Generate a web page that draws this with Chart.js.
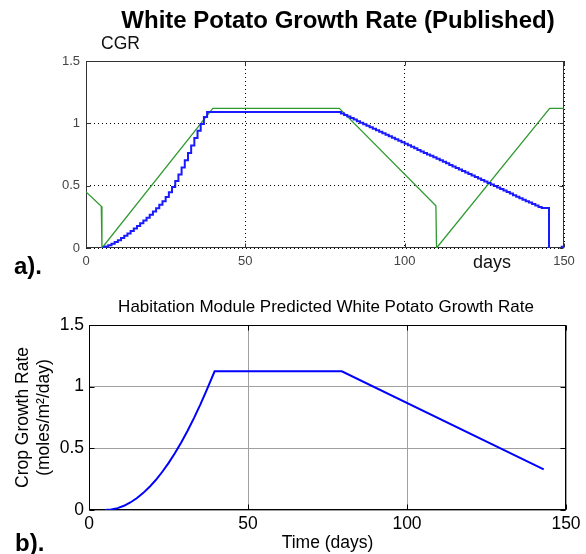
<!DOCTYPE html>
<html>
<head>
<meta charset="utf-8">
<script src="https://cdn.jsdelivr.net/npm/chart.js@4.4.1/dist/chart.umd.min.js"></script>
<style>
    body { margin: 0; background: #fff; }
    #pagina { position: relative; width: 586px; height: 554px; font-family: "Liberation Sans", Arial, sans-serif; }
    .riquadro { position: absolute; left: 0; width: 586px; }
    .testo { position: absolute; white-space: nowrap; line-height: 1; }
    .centro { transform: translate(-50%, -50%); }
    .sinistra { transform: translate(0, -50%); }
</style>
</head>
<body>
<div id="pagina">
    <div class="riquadro" style="top:0;height:280px"><canvas id="graficoA" width="586" height="280"></canvas></div>
    <div class="riquadro" style="top:280px;height:274px"><canvas id="graficoB" width="586" height="274"></canvas></div>

    <div class="testo centro" style="left:338px;top:20px;font-size:24px;font-weight:bold;color:#000">White Potato Growth Rate (Published)</div>
    <div class="testo sinistra" style="left:101px;top:44px;font-size:17.5px;color:#111">CGR</div>
    <div class="testo sinistra" style="left:473px;top:262px;font-size:18px;color:#111">days</div>
    <div class="testo sinistra" style="left:14px;top:266px;font-size:24px;font-weight:bold;color:#000">a).</div>

    <div class="testo centro" style="left:326px;top:306px;font-size:17px;color:#000">Habitation Module Predicted White Potato Growth Rate</div>
    <div class="testo sinistra" style="left:15px;top:543px;font-size:24px;font-weight:bold;color:#000">b).</div>
</div>

<script>
// Grafico a): curva pubblicata, linea verde
const giorniVerde = [0, 4.8, 5, 39.8, 79.5, 109.8, 110, 145.5, 150];
const cgrVerde = [0.45, 0.334, 0, 1.12, 1.12, 0.338, 0, 1.12, 1.12];

// Grafico a): curva a gradini, linea blu (null = interruzione)
const giorniBlu = [5.5, 6, 7, 8, 9, 10, 11, 12, 13, 14, 15, 16, 17, 18, 19, 20, 21, 22, 23, 24, 25, 26, 27, 28, 29, 30, 31, 32, 33, 34, 35, 36, 37, 38, 39,
    80, 81, 82, 83, 84, 85, 86, 87, 88, 89, 90, 91, 92, 93, 94, 95, 96, 97, 98, 99, 100, 101, 102, 103, 104, 105, 106, 107, 108, 109, 110, 111,
    112, 113, 114, 115, 116, 117, 118, 119, 120, 121, 122, 123, 124, 125, 126, 127, 128, 129, 130, 131, 132, 133, 134, 135, 136, 137, 138, 139,
    140, 141, 142, 143, 143.5, 145.3, 145.3,
    147, 149.3, 150];
const cgrBlu = [0, 0.004, 0.012, 0.022, 0.034, 0.048, 0.063, 0.08, 0.098, 0.117, 0.136, 0.156, 0.177, 0.198, 0.22, 0.243, 0.267, 0.292, 0.318, 0.346, 0.376, 0.41, 0.448, 0.49, 0.537, 0.59, 0.645, 0.703, 0.762, 0.822, 0.882, 0.94, 0.995, 1.05, 1.09,
    1.09, 1.078, 1.066, 1.054, 1.042, 1.03, 1.017, 1.005, 0.993, 0.981, 0.969, 0.957, 0.945, 0.933, 0.921, 0.908, 0.896, 0.884, 0.872, 0.86, 0.848, 0.836, 0.824, 0.812, 0.8, 0.787, 0.775, 0.763, 0.751, 0.739, 0.727, 0.715,
    0.703, 0.691, 0.679, 0.666, 0.654, 0.642, 0.63, 0.618, 0.606, 0.594, 0.582, 0.57, 0.558, 0.545, 0.533, 0.521, 0.509, 0.497, 0.485, 0.473, 0.461, 0.449, 0.437, 0.424, 0.412, 0.4, 0.388, 0.376,
    0.364, 0.352, 0.34, 0.328, 0.32, 0.32, 0,
    null, 0, 0.01];

// Grafico b): curva prevista dal modulo abitativo
const giorniB = [5, 7, 9, 11, 13, 15, 17, 19, 21, 23, 25, 27, 29, 31, 33, 35, 37, 39.5, 79.5, 143];
const cgrB = [0, 0.004, 0.015, 0.034, 0.061, 0.095, 0.137, 0.186, 0.243, 0.308, 0.38, 0.46, 0.548, 0.643, 0.745, 0.855, 0.972, 1.125, 1.125, 0.33];

// Etichette degli assi
const ticksGiorni = [0, 50, 100, 150];
const ticksCgr = [0, 0.5, 1, 1.5];

const famiglia = '"Liberation Sans", Arial, sans-serif';

function punti(xs, ys) {
    return xs.map((x, i) => ({ x: x, y: ys[i] }));
}

// Disegna il riquadro attorno all'area del grafico e le tacche interne
const cornice = {
    id: 'cornice',
    beforeDatasetsDraw(chart, args, opts) {
        const { ctx, chartArea: a, scales } = chart;
        const l = Math.round(a.left) + 0.5, r = Math.round(a.right) - 0.5;
        const t = Math.round(a.top) + 0.5, b = Math.round(a.bottom) - 0.5;
        ctx.save();
        ctx.strokeStyle = opts.colore;
        ctx.lineWidth = 1;
        ctx.beginPath();
        ticksGiorni.forEach(v => {
            const px = Math.round(scales.x.getPixelForValue(v)) + 0.5;
            ctx.moveTo(px, b); ctx.lineTo(px, b - opts.tacca);
            ctx.moveTo(px, t); ctx.lineTo(px, t + opts.tacca);
        });
        ticksCgr.forEach(v => {
            const py = Math.round(scales.y.getPixelForValue(v)) + 0.5;
            ctx.moveTo(l, py); ctx.lineTo(l + opts.tacca, py);
            ctx.moveTo(r, py); ctx.lineTo(r - opts.tacca, py);
        });
        ctx.stroke();
        ctx.strokeRect(l, t, r - l, b - t);
        ctx.restore();
    }
};

function scalaX(opzioni) {
    return {
        type: 'linear', min: 0, max: 150,
        afterFit: s => { s.height = opzioni.altezza; },
        afterBuildTicks: s => { s.ticks = ticksGiorni.map(v => ({ value: v })); },
        ticks: { padding: opzioni.padding, color: opzioni.coloreTesto, font: { size: opzioni.font, family: famiglia }, maxRotation: 0, autoSkip: false, callback: v => String(v) },
        grid: { color: opzioni.coloreGriglia, lineWidth: 1, drawTicks: false },
        border: { display: false, dash: opzioni.tratteggio },
        title: opzioni.titolo || { display: false }
    };
}

function scalaY(opzioni) {
    return {
        min: 0, max: 1.5,
        afterFit: s => { s.width = opzioni.larghezza; },
        afterBuildTicks: s => { s.ticks = ticksCgr.map(v => ({ value: v })); },
        ticks: { padding: opzioni.padding, color: opzioni.coloreTesto, font: { size: opzioni.font, family: famiglia }, autoSkip: false, callback: v => String(v) },
        grid: { color: opzioni.coloreGriglia, lineWidth: 1, drawTicks: false },
        border: { display: false, dash: opzioni.tratteggio },
        title: opzioni.titolo || { display: false }
    };
}

// Grafico a)
new Chart(document.getElementById('graficoA').getContext('2d'), {
    type: 'line',
    data: {
        datasets: [
            {
                label: 'Blu',
                data: punti(giorniBlu, cgrBlu),
                borderColor: '#1a1aff',
                borderWidth: 2,
                pointRadius: 0,
                stepped: 'after',
                spanGaps: false,
                order: 0
            },
            {
                label: 'Verde',
                data: punti(giorniVerde, cgrVerde),
                borderColor: '#2f9a2f',
                borderWidth: 1.3,
                pointRadius: 0,
                tension: 0,
                order: 1
            }
        ]
    },
    options: {
        responsive: false,
        animation: false,
        layout: { padding: { left: 0, right: 22, top: 61, bottom: 12 } },
        scales: {
            x: scalaX({ altezza: 20, padding: 6, coloreTesto: '#444', font: 13, coloreGriglia: '#000', tratteggio: [1, 3] }),
            y: scalaY({ larghezza: 86, padding: 6, coloreTesto: '#444', font: 13, coloreGriglia: '#000', tratteggio: [1, 3] })
        },
        plugins: {
            legend: { display: false },
            tooltip: { enabled: false },
            cornice: { colore: '#333', tacca: 4 }
        }
    },
    plugins: [cornice]
});

// Grafico b)
new Chart(document.getElementById('graficoB').getContext('2d'), {
    type: 'line',
    data: {
        datasets: [{
            label: 'Previsto',
            data: punti(giorniB, cgrB),
            borderColor: '#0000ff',
            borderWidth: 2,
            pointRadius: 0,
            tension: 0
        }]
    },
    options: {
        responsive: false,
        animation: false,
        layout: { padding: { left: 0, right: 20, top: 45, bottom: 0 } },
        scales: {
            x: scalaX({
                altezza: 44, padding: 4, coloreTesto: '#000', font: 17.5, coloreGriglia: '#a0a0a0', tratteggio: [],
                titolo: { display: true, text: 'Time (days)', color: '#000', font: { size: 17.5, family: famiglia, lineHeight: 1.2 }, padding: { top: 0, bottom: 0 } }
            }),
            y: scalaY({
                larghezza: 89, padding: 5, coloreTesto: '#000', font: 17.5, coloreGriglia: '#a0a0a0', tratteggio: [],
                titolo: { display: true, text: ['Crop Growth Rate', '(moles/m\u00B2/day)'], color: '#000', font: { size: 17.5, family: famiglia, lineHeight: 1.24 }, padding: { top: 12, bottom: 0 } }
            })
        },
        plugins: {
            legend: { display: false },
            tooltip: { enabled: false },
            cornice: { colore: '#000', tacca: 5 }
        }
    },
    plugins: [cornice]
});
</script>
</body>
</html>
